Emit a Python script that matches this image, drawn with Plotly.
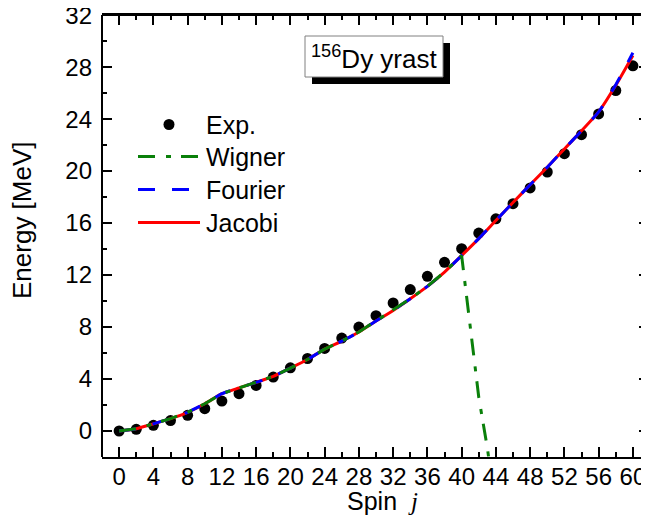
import plotly.graph_objects as go

# ---------------- data ----------------
spin_exp = [0, 2, 4, 6, 8, 10, 12, 14, 16, 18, 20, 22, 24, 26, 28, 30,
            32, 34, 36, 38, 40, 42, 44, 46, 48, 50, 52, 54, 56, 58, 60]
energy_exp = [0.0, 0.13, 0.44, 0.80, 1.21, 1.72, 2.30, 2.87, 3.51, 4.15, 4.86,
              5.58, 6.35, 7.15, 8.00, 8.87, 9.85, 10.88, 11.90, 12.98, 14.03,
              15.23, 16.33, 17.49, 18.70, 19.93, 21.34, 22.80, 24.40, 26.20, 28.10]

spin_curve = [0, 2, 4, 6, 8, 10, 12, 14, 16, 18, 20, 22, 24, 26, 28, 30,
              32, 34, 36, 38, 40, 42, 44, 46, 48, 50, 52, 54, 56, 58, 60]
energy_jacobi = [0.0, 0.18, 0.55, 0.95, 1.44, 2.10, 2.87, 3.32, 3.74, 4.20, 4.84,
                 5.50, 6.30, 6.92, 7.62, 8.46, 9.28, 10.18, 11.13, 12.23, 13.50,
                 14.80, 16.20, 17.58, 18.95, 20.30, 21.70, 23.10, 24.55, 26.60, 28.90]
energy_fourier = [0.0, 0.18, 0.55, 0.95, 1.44, 2.10, 2.87, 3.32, 3.74, 4.20, 4.84,
                  5.50, 6.30, 6.92, 7.62, 8.46, 9.28, 10.18, 11.13, 12.23, 13.50,
                  14.80, 16.20, 17.58, 18.95, 20.30, 21.70, 23.10, 24.55, 26.65, 29.10]

spin_wigner = [0, 2, 4, 6, 8, 10, 12, 14, 16, 18, 20, 22, 24, 26, 28, 30,
               32, 34, 36, 38, 40, 41, 42, 43, 44]
energy_wigner = [0.0, 0.18, 0.55, 0.95, 1.44, 2.10, 2.87, 3.32, 3.74, 4.20, 4.84,
                 5.50, 6.30, 6.92, 7.62, 8.46, 9.28, 10.18, 11.13, 12.23, 13.50,
                 8.00, 2.60, -1.30, -6.00]

x_ticks = [0, 4, 8, 12, 16, 20, 24, 28, 32, 36, 40, 44, 48, 52, 56, 60]
y_ticks = [0, 4, 8, 12, 16, 20, 24, 28, 32]

legend_names = ["Exp.", "Wigner", "Fourier", "Jacobi"]
label_text = "<sup>156</sup>Dy yrast"
x_title = "Spin  <span style='font-family:Liberation Serif'><i>j</i></span>"
y_title = "Energy [MeV]"

# ---------------- styling ----------------
FONT = "Liberation Sans, Arial, sans-serif"
OFF = 8  # default page body margin
W, H = 641, 513
L, R, T, B = 94, 0, 7, 64
PW, PH = W - L - R, H - T - B


def px(x):
    """window pixel x -> paper coordinate"""
    return (x - OFF - L) / PW


def py(y):
    """window pixel y -> paper coordinate"""
    return (H - B - (y - OFF)) / PH


GREEN = "#0a800a"
BLUE = "#0000ff"
RED = "#ff0000"
DASH_F = "17px,17px"
DASH_W = "17px,11px,5px,10px"

fig = go.Figure()
fig.add_trace(go.Scatter(x=spin_exp, y=energy_exp, mode="markers",
                         marker=dict(color="black", size=11), name=legend_names[0],
                         showlegend=False))
fig.add_trace(go.Scatter(x=spin_curve, y=energy_jacobi, mode="lines",
                         line=dict(color=RED, width=3, shape="spline", smoothing=0.6),
                         name=legend_names[3], showlegend=False))
fig.add_trace(go.Scatter(x=spin_curve, y=energy_fourier, mode="lines",
                         line=dict(color=BLUE, width=3, dash=DASH_F, shape="spline", smoothing=0.6),
                         name=legend_names[2], showlegend=False))
fig.add_trace(go.Scatter(x=spin_wigner, y=energy_wigner, mode="lines",
                         line=dict(color=GREEN, width=3, dash=DASH_W),
                         name=legend_names[1], showlegend=False))

shapes = []
annotations = []

# frame lines: left and top (the right one lies outside the visible page)
shapes.append(dict(type="line", xref="paper", yref="paper", x0=0, x1=0, y0=0, y1=1,
                   line=dict(color="black", width=2)))
shapes.append(dict(type="line", xref="paper", yref="paper", x0=0, x1=1, y0=1, y1=1,
                   line=dict(color="black", width=2)))

# manual legend
leg_y = [124.5, 156.5, 189.5, 222.5]
shapes.append(dict(type="circle", xref="paper", yref="paper",
                   x0=px(163.5), x1=px(174.5), y0=py(leg_y[0] + 5.5), y1=py(leg_y[0] - 5.5),
                   fillcolor="black", line=dict(width=0)))
shapes.append(dict(type="line", xref="paper", yref="paper", x0=px(138), x1=px(200),
                   y0=py(leg_y[1]), y1=py(leg_y[1]), line=dict(color=GREEN, width=3, dash=DASH_W)))
shapes.append(dict(type="line", xref="paper", yref="paper", x0=px(138), x1=px(189),
                   y0=py(leg_y[2]), y1=py(leg_y[2]), line=dict(color=BLUE, width=3, dash=DASH_F)))
shapes.append(dict(type="line", xref="paper", yref="paper", x0=px(138), x1=px(200),
                   y0=py(leg_y[3]), y1=py(leg_y[3]), line=dict(color=RED, width=3)))
for name, yy in zip(legend_names, leg_y):
    annotations.append(dict(text=name, xref="paper", yref="paper", x=px(204), y=py(yy),
                            xanchor="left", yanchor="middle", showarrow=False,
                            font=dict(family=FONT, size=25, color="black")))

# label box with shadow
shapes.append(dict(type="rect", xref="paper", yref="paper", x0=px(312), x1=px(450),
                   y0=py(84), y1=py(43), fillcolor="black", line=dict(width=0)))
shapes.append(dict(type="rect", xref="paper", yref="paper", x0=px(305), x1=px(443),
                   y0=py(77), y1=py(36), fillcolor="white", line=dict(color="#808080", width=1)))
annotations.append(dict(text=label_text, xref="paper", yref="paper", x=px(374), y=py(57),
                        xanchor="center", yanchor="middle", showarrow=False,
                        font=dict(family=FONT, size=26, color="black")))

# axis titles
annotations.append(dict(text=y_title, xref="paper", yref="paper", x=px(22), y=py(220),
                        xanchor="center", yanchor="middle", textangle=-90, showarrow=False,
                        font=dict(family=FONT, size=26, color="black")))
annotations.append(dict(text=x_title, xref="paper", yref="paper", x=px(382), y=py(501),
                        xanchor="center", yanchor="middle", showarrow=False,
                        font=dict(family=FONT, size=25, color="black")))

axis_common = dict(
    showgrid=False, zeroline=False, ticks="inside", ticklen=10, tickwidth=2,
    tickcolor="black", tickfont=dict(family=FONT, size=24, color="black"),
    minor=dict(ticks="inside", ticklen=5, tickwidth=2, tickcolor="black", dtick=2, tick0=0),
    mirror="ticks", automargin=False, ticklabeloverflow="allow",
)

fig.update_layout(
    width=W, height=H,
    margin=dict(l=L, r=R, t=T, b=B, pad=0, autoexpand=False),
    paper_bgcolor="white", plot_bgcolor="white",
    showlegend=False,
    shapes=shapes, annotations=annotations,
    xaxis=dict(range=[-2, 61.88], tickvals=x_ticks, showline=True, linewidth=2,
               linecolor="black", ticklabelstandoff=-3, **axis_common),
    yaxis=dict(range=[-2, 32.01], tickvals=y_ticks, showline=False,
               ticklabelstandoff=9, **axis_common),
)

fig.write_html("out.html")
